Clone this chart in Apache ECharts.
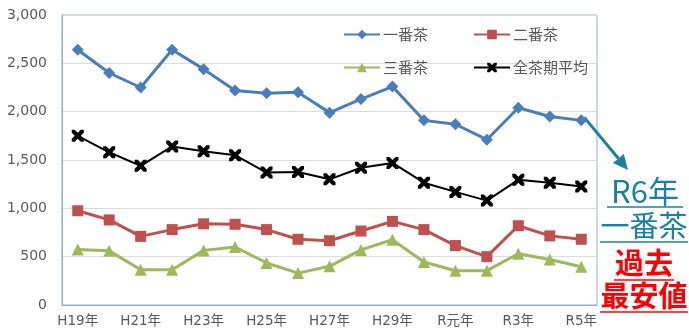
<!DOCTYPE html>
<html>
<head>
<meta charset="utf-8">
<title>茶価格の推移</title>
<script src="https://cdn.jsdelivr.net/npm/echarts@6/dist/echarts.min.js"></script>
<style>
  html, body { margin: 0; padding: 0; background: #fff; }
  #main { width: 689px; height: 333px; }
</style>
</head>
<body>
<div id="main"></div>
<script>
var years = ['H19年','H20年','H21年','H22年','H23年','H24年','H25年','H26年','H27年',
             'H28年','H29年','H30年','R元年','R2年','R3年','R4年','R5年'];
var ichiban = [2640,2400,2250,2640,2440,2220,2190,2200,1990,2130,2260,1910,1870,1710,2040,1950,1910];
var niban   = [975,880,710,780,840,835,780,680,665,765,865,780,615,500,820,715,680];
var sanban  = [575,560,365,365,565,600,435,330,400,570,675,445,355,355,530,470,395];
var heikin  = [1750,1580,1440,1640,1590,1550,1370,1375,1300,1420,1470,1265,1170,1080,1295,1265,1225];
var seriesNames = ['一番茶','二番茶','三番茶','全茶期平均'];

var font = '"Noto Sans CJK JP", sans-serif';
var axisFont = '"DejaVu Sans", "Noto Sans CJK JP", sans-serif';
var xMark = 'path://M0,0 L2.5,0 L5,2.5 L7.5,0 L10,0 L10,2.5 L7.5,5 L10,7.5 L10,10 L7.5,10 L5,7.5 L2.5,10 L0,10 L0,7.5 L2.5,5 L0,2.5 Z';

var chart = echarts.init(document.getElementById('main'));

function lineSeries(name, data, color, symbol, size, width) {
  return {
    name: name, type: 'line', data: data,
    symbol: symbol, symbolSize: size,
    lineStyle: { color: color, width: width },
    itemStyle: { color: color },
    animation: false
  };
}

// one legend per item so each sits at its own spot (2 x 2 block)
var legendPos = [[343, 27], [473, 27], [343, 60], [473, 60]];
var legends = seriesNames.map(function (n, i) {
  return {
    data: [n], left: legendPos[i][0], top: legendPos[i][1], padding: 0,
    itemWidth: 36, itemHeight: 12,
    textStyle: { color: '#595959', fontSize: 15, fontFamily: font, padding: [0, 0, 0, -2] }
  };
});

var option = {
  textStyle: { fontFamily: font },
  grid: { left: 62, right: 92, top: 15, bottom: 28, show: true, borderColor: '#93acd3', borderWidth: 1 },
  legend: legends,
  xAxis: {
    type: 'category', data: years, boundaryGap: true,
    axisLine: { lineStyle: { color: '#93acd3' } },
    axisTick: { show: false },
    axisLabel: { interval: 1, color: '#595959', fontSize: 13.5, fontFamily: axisFont, margin: 10 }
  },
  yAxis: {
    type: 'value', min: 0, max: 3000, interval: 500,
    axisLine: { show: true, lineStyle: { color: '#93acd3' } },
    splitLine: { lineStyle: { color: '#dcdcdc' } },
    axisLabel: {
      color: '#595959', fontSize: 14, fontFamily: axisFont, margin: 15,
      formatter: function (v) { return v.toLocaleString('en-US'); }
    }
  },
  series: [
    lineSeries(seriesNames[0], ichiban, '#4a7ebb', 'diamond', 12, 3),
    lineSeries(seriesNames[1], niban, '#c0504d', 'rect', 11, 3),
    lineSeries(seriesNames[2], sanban, '#9bbb59', 'triangle', 12, 3),
    lineSeries(seriesNames[3], heikin, '#000000', xMark, 12, 2)
  ]
};
chart.setOption(option);

// annotation on the right: arrow from the last 一番茶 point
var p = chart.convertToPixel({ seriesIndex: 0 }, [years.length - 1, ichiban[ichiban.length - 1]]);
var teal = '#1a82a0';
var red = '#ff0000';
var sx = p[0] + 3, sy = p[1] - 3, ex = 628, ey = 170;
var ang = Math.atan2(ey - sy, ex - sx);
var hl = 15, hw = 7;
var bx = ex - hl * Math.cos(ang), by = ey - hl * Math.sin(ang);
chart.setOption({
  graphic: [
    { type: 'line', shape: { x1: sx, y1: sy, x2: bx, y2: by }, style: { stroke: teal, lineWidth: 3 } },
    { type: 'polygon', shape: { points: [[ex, ey],
        [bx + hw * Math.sin(ang), by - hw * Math.cos(ang)],
        [bx - hw * Math.sin(ang), by + hw * Math.cos(ang)]] }, style: { fill: teal } },
    { type: 'text', x: 645, y: 191, style: { text: 'R6年', fill: teal, fontSize: 31, fontFamily: font, align: 'center', verticalAlign: 'middle' } },
    { type: 'line', shape: { x1: 607, y1: 207, x2: 683, y2: 207 }, style: { stroke: teal, lineWidth: 1.5 } },
    { type: 'text', x: 644, y: 226, style: { text: '一番茶', fill: teal, fontSize: 29, fontFamily: font, align: 'center', verticalAlign: 'middle' } },
    { type: 'line', shape: { x1: 600, y1: 242, x2: 688, y2: 242 }, style: { stroke: teal, lineWidth: 1.5 } },
    { type: 'text', x: 644, y: 263, style: { text: '過去', fill: red, fontSize: 29, fontWeight: 'bold', fontFamily: font, align: 'center', verticalAlign: 'middle' } },
    { type: 'line', shape: { x1: 614, y1: 280, x2: 674, y2: 280 }, style: { stroke: red, lineWidth: 1.5 } },
    { type: 'text', x: 644, y: 296, style: { text: '最安値', fill: red, fontSize: 29, fontWeight: 'bold', fontFamily: font, align: 'center', verticalAlign: 'middle' } },
    { type: 'line', shape: { x1: 600, y1: 312, x2: 688, y2: 312 }, style: { stroke: red, lineWidth: 1.5 } }
  ]
});
</script>
</body>
</html>
